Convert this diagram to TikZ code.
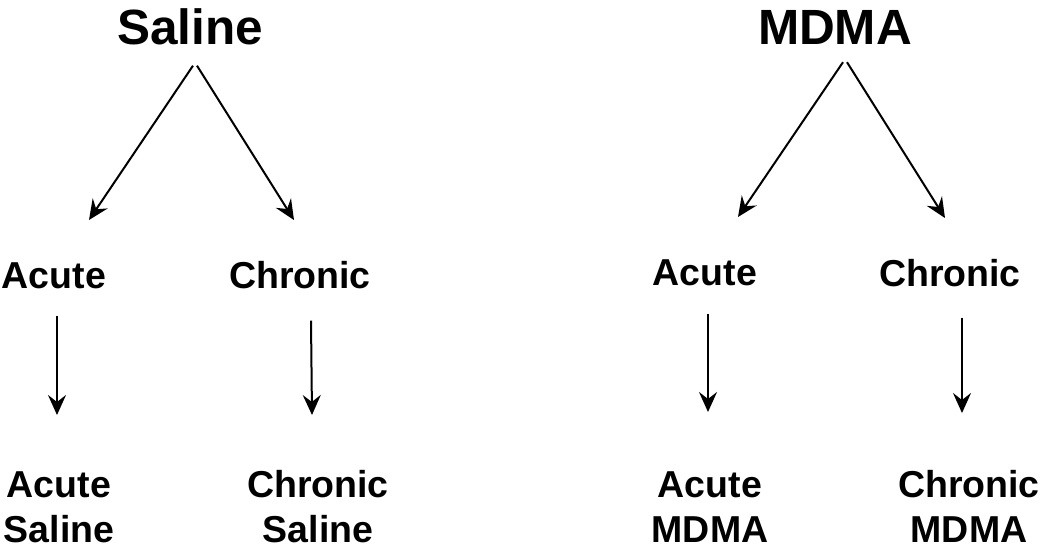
\documentclass[tikz,border=0pt]{standalone}
\usepackage{fontspec}
\setmainfont{Liberation Sans}
\usetikzlibrary{arrows.meta}
\begin{document}
\begin{tikzpicture}[x=1pt,y=-1pt,
  title/.style={inner sep=0pt,anchor=base,font=\bfseries\fontsize{49.5}{58}\selectfont},
  lbl/.style={inner sep=0pt,anchor=base,align=center,font=\bfseries\fontsize{37.5}{45}\selectfont},
  arr/.style={line width=2pt,-{Stealth[length=20pt,width=18pt,inset=7pt]}}]
\useasboundingbox (0,0) rectangle (1050,552);
% titles
\node[title] (sal) at (190,44) {Saline};
\node[title] (mdma) at (835,44) {MDMA};
% middle row
\node[lbl] (acL) at (54,288) {Acute};
\node[lbl] (chL) at (300,288) {Chronic};
\node[lbl] (acR) at (705,285) {Acute};
\node[lbl] (chR) at (950,286) {Chronic};
% bottom row
\node[lbl] (acS) at (59,542) {Acute\\Saline};
\node[lbl] (chS) at (318,542) {Chronic\\Saline};
\node[lbl] (acM) at (710,542) {Acute\\MDMA};
\node[lbl] (chM) at (969,542) {Chronic\\MDMA};
% arrow end points
\coordinate (e1) at (89,220);
\coordinate (e2) at (294,220);
\coordinate (e3) at (738,217);
\coordinate (e4) at (945,218);
\coordinate (v1) at (57,415);
\coordinate (v2) at (312,415);
\coordinate (v3) at (708,412);
\coordinate (v4) at (962,413);
% connectors
\draw[arr] ([shift={(3,21)}]sal.south) -- (e1);
\draw[arr] ([shift={(7,21)}]sal.south) -- (e2);
\draw[arr] ([shift={(8,18)}]mdma.south) -- (e3);
\draw[arr] ([shift={(12,18)}]mdma.south) -- (e4);
\draw[arr] ([shift={(3,27)}]acL.south) -- (v1);
\draw[arr] ([shift={(11,32)}]chL.south) -- (v2);
\draw[arr] ([shift={(3,28)}]acR.south) -- (v3);
\draw[arr] ([shift={(12,31)}]chR.south) -- (v4);
\end{tikzpicture}
\end{document}
